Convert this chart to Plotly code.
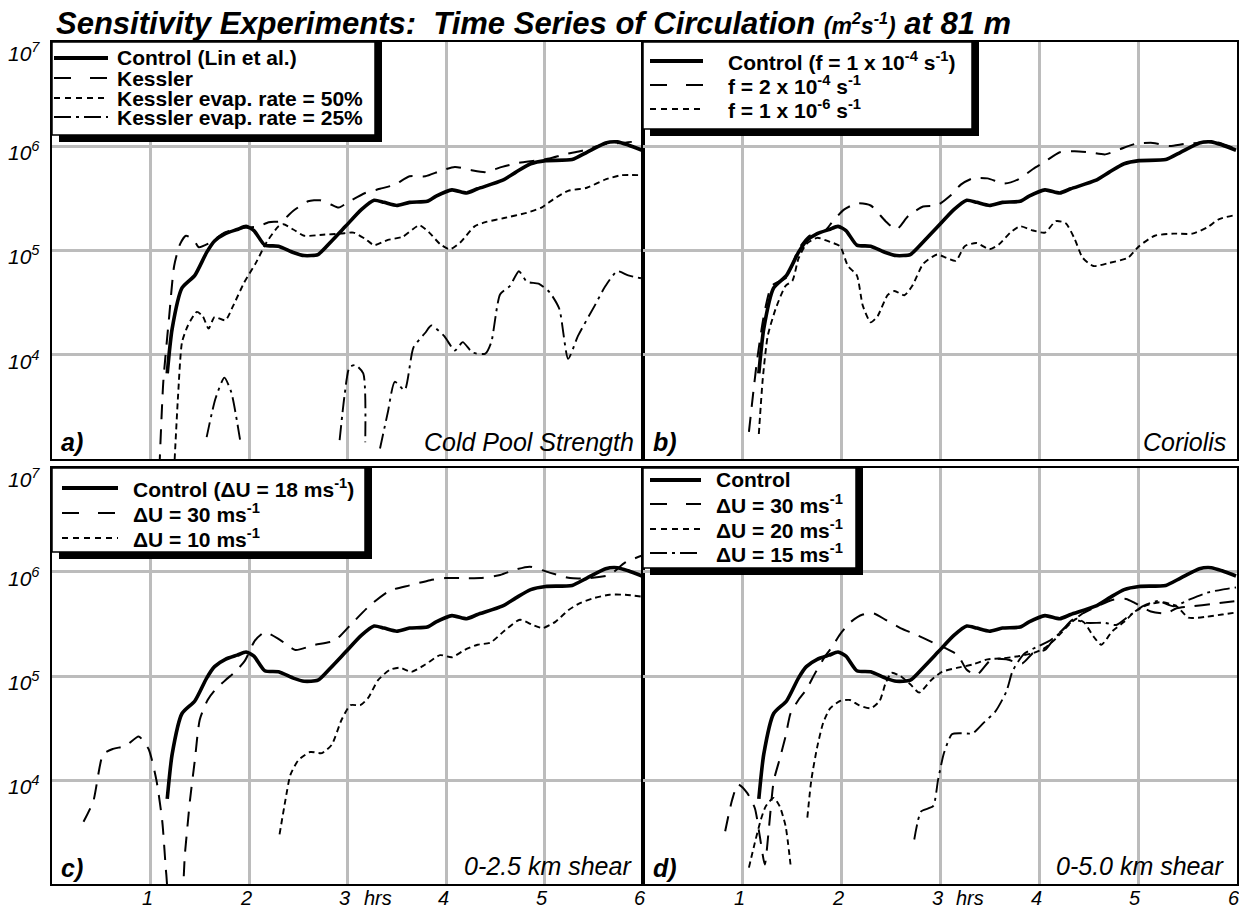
import plotly.graph_objects as go

W, H = 1239, 909

# ---------------- data (time in hours, circulation as log10 of m^2 s^-1) ----------------
ctrl_t = [1.17, 1.22, 1.32, 1.45, 1.57, 1.65, 1.76, 1.88, 1.97, 2.05, 2.16, 2.30, 2.45, 2.56, 2.70,
          2.83, 2.98, 3.14, 3.27, 3.37, 3.50, 3.63, 3.81, 3.90, 4.06, 4.21, 4.32, 4.57, 4.71, 4.86,
          5.01, 5.28, 5.43, 5.62, 5.74, 5.85, 5.99]
ctrl_log = [3.82, 4.25, 4.64, 4.76, 4.98, 5.09, 5.16, 5.20, 5.23, 5.19, 5.05, 5.04, 4.98, 4.95, 4.96,
            5.08, 5.23, 5.39, 5.48, 5.46, 5.43, 5.46, 5.47, 5.52, 5.58, 5.55, 5.59, 5.67, 5.75, 5.83,
            5.86, 5.87, 5.94, 6.03, 6.04, 6.01, 5.96]

# panel a: cold pool strength
kess_t = [1.09, 1.13, 1.19, 1.24, 1.30, 1.36, 1.44, 1.49, 1.60, 1.75, 1.90, 2.00, 2.10, 2.20, 2.33,
          2.45, 2.60, 2.72, 2.83, 2.91, 3.02, 3.18, 3.33, 3.48, 3.63, 3.79, 3.94, 4.09, 4.25, 4.40,
          4.57, 4.74, 4.90, 5.05, 5.20, 5.36, 5.47, 5.62, 5.78, 5.99]
kess_log = [2.90, 3.74, 4.37, 4.85, 5.06, 5.14, 5.10, 5.03, 5.07, 5.17, 5.21, 5.22, 5.23, 5.27, 5.28,
            5.38, 5.47, 5.48, 5.44, 5.41, 5.47, 5.55, 5.59, 5.63, 5.71, 5.71, 5.76, 5.80, 5.77, 5.75,
            5.80, 5.84, 5.86, 5.88, 5.92, 5.95, 5.98, 6.02, 6.03, 6.05]

evap50_t = [1.24, 1.28, 1.32, 1.38, 1.47, 1.53, 1.59, 1.65, 1.76, 1.84, 1.95, 2.07, 2.18, 2.30, 2.35,
            2.45, 2.56, 2.75, 2.93, 3.06, 3.18, 3.27, 3.41, 3.56, 3.73, 3.83, 3.94, 4.04, 4.15, 4.29,
            4.40, 4.59, 4.82, 4.97, 5.09, 5.24, 5.43, 5.62, 5.78, 5.99]
evap50_log = [2.90, 3.61, 4.12, 4.28, 4.41, 4.37, 4.25, 4.36, 4.33, 4.47, 4.69, 4.88, 5.08, 5.23, 5.25,
              5.20, 5.14, 5.15, 5.16, 5.17, 5.11, 5.05, 5.10, 5.13, 5.24, 5.17, 5.06, 5.01, 5.08, 5.23,
              5.27, 5.31, 5.36, 5.41, 5.49, 5.57, 5.60, 5.68, 5.72, 5.72]

evap25_t = [1.57, 1.66, 1.75, 1.82, 1.91, None,
            2.92, 2.97, 3.02, 3.08, 3.16, 3.18, None,
            3.33, 3.41, 3.48, 3.58, 3.67, 3.79, 3.85, 3.98, 4.09, 4.17, 4.27, 4.40, 4.46, 4.55,
            4.65, 4.74, 4.82, 4.94, 5.05, 5.15, 5.24, 5.34, 5.51, 5.62, 5.74, 5.85, 5.99]
evap25_log = [3.21, 3.58, 3.78, 3.64, 3.18, None,
              3.18, 3.61, 3.88, 3.90, 3.82, 3.16, None,
              3.10, 3.45, 3.74, 3.66, 4.07, 4.21, 4.28, 4.18, 4.04, 4.12, 4.02, 4.01, 4.12, 4.58,
              4.66, 4.80, 4.70, 4.68, 4.60, 4.44, 3.96, 4.18, 4.47, 4.66, 4.80, 4.76, 4.73]

# panel b: Coriolis
f2_t = [1.07, 1.15, 1.22, 1.30, 1.45, 1.57, 1.68, 1.84, 1.91, 2.03, 2.16, 2.30, 2.45, 2.56, 2.68,
        2.83, 2.97, 3.10, 3.21, 3.33, 3.48, 3.65, 3.79, 3.94, 4.06, 4.21, 4.36, 4.51, 4.67, 4.82,
        4.97, 5.15, 5.32, 5.47, 5.62, 5.78, 5.97]
f2_log = [3.26, 3.93, 4.37, 4.66, 4.74, 5.01, 5.14, 5.19, 5.27, 5.39, 5.45, 5.43, 5.28, 5.20, 5.33,
          5.42, 5.43, 5.52, 5.63, 5.69, 5.69, 5.64, 5.68, 5.78, 5.85, 5.94, 5.95, 5.94, 5.92, 5.97,
          6.02, 6.03, 6.00, 6.02, 6.03, 6.04, 5.98]

f6_t = [1.17, 1.21, 1.26, 1.34, 1.44, 1.51, 1.57, 1.65, 1.76, 1.89, 1.99, 2.07, 2.16, 2.22, 2.30,
        2.37, 2.47, 2.54, 2.64, 2.72, 2.83, 2.97, 3.06, 3.16, 3.25, 3.37, 3.50, 3.60, 3.71, 3.81,
        3.94, 4.06, 4.17, 4.27, 4.36, 4.44, 4.55, 4.71, 4.90, 5.01, 5.17, 5.36, 5.55, 5.70, 5.82, 5.99]
f6_log = [3.24, 3.77, 4.18, 4.44, 4.66, 4.71, 4.92, 5.06, 5.12, 5.08, 5.04, 4.85, 4.76, 4.47, 4.31,
          4.37, 4.57, 4.61, 4.57, 4.66, 4.87, 4.96, 4.93, 4.90, 5.04, 5.07, 5.01, 5.06, 5.17, 5.23,
          5.19, 5.17, 5.28, 5.26, 5.11, 4.93, 4.85, 4.88, 4.93, 5.04, 5.14, 5.16, 5.16, 5.22, 5.30, 5.34]

# panel c: 0-2.5 km shear
c30_t = [0.32, 0.42, 0.52, 0.62, 0.75, 0.88, 0.98, 1.06, 1.12, 1.16, 1.20, 1.30, 1.35, 1.40, 1.45,
         1.50, 1.58, 1.65, 1.76, 1.86, 1.96, 2.06, 2.16, 2.31, 2.47, 2.67, 2.87, 3.03, 3.23, 3.43,
         3.63, 3.84, 3.99, 4.14, 4.35, 4.55, 4.70, 4.85, 5.06, 5.26, 5.46, 5.66, 5.82, 6.00]
c30_log = [3.60, 3.80, 4.25, 4.30, 4.33, 4.42, 4.30, 4.00, 3.60, 3.10, 2.80, 2.80, 3.30, 3.80, 4.19,
           4.58, 4.77, 4.86, 4.96, 5.04, 5.15, 5.34, 5.42, 5.35, 5.25, 5.30, 5.34, 5.49, 5.68, 5.82,
           5.87, 5.92, 5.94, 5.94, 5.94, 5.97, 6.02, 6.05, 5.99, 5.94, 5.94, 5.97, 6.09, 6.16]

c10_t = [2.31, 2.37, 2.42, 2.50, 2.62, 2.74, 2.84, 2.94, 3.03, 3.13, 3.21, 3.31, 3.43, 3.53, 3.65,
         3.79, 3.94, 4.06, 4.19, 4.32, 4.45, 4.60, 4.75, 4.88, 4.98, 5.11, 5.24, 5.36, 5.51, 5.66,
         5.82, 6.00]
c10_log = [3.48, 3.81, 4.05, 4.19, 4.27, 4.26, 4.34, 4.58, 4.72, 4.72, 4.79, 4.96, 5.06, 5.08, 5.04,
           5.11, 5.20, 5.18, 5.25, 5.30, 5.32, 5.44, 5.54, 5.49, 5.46, 5.52, 5.63, 5.70, 5.75, 5.78,
           5.78, 5.76]

# panel d: 0-5.0 km shear
d30_t = [0.83, 0.90, 0.96, 1.05, 1.13, 1.18, 1.23, 1.27, 1.32, 1.38, 1.44, 1.49, 1.57, 1.65, 1.74,
         1.84, 1.91, 1.99, 2.10, 2.22, 2.33, 2.45, 2.60, 2.75, 2.93, 3.05, 3.18, 3.27, 3.37, 3.52,
         3.67, 3.83, 3.94, 4.06, 4.17, 4.29, 4.44, 4.59, 4.74, 4.88, 4.97, 5.13, 5.28, 5.39, 5.55,
         5.74, 5.99]
d30_log = [3.51, 3.81, 3.96, 3.88, 3.73, 3.46, 3.19, 3.52, 3.99, 4.20, 4.42, 4.64, 4.77, 4.87, 5.03,
           5.19, 5.28, 5.40, 5.52, 5.59, 5.60, 5.54, 5.46, 5.40, 5.32, 5.27, 5.20, 5.06, 5.01, 5.16,
           5.16, 5.12, 5.22, 5.25, 5.38, 5.49, 5.60, 5.67, 5.73, 5.74, 5.70, 5.62, 5.60, 5.65, 5.67,
           5.69, 5.72]

d20_t = [1.07, 1.13, 1.19, 1.24, 1.32, 1.38, 1.44, 1.49, None,
         1.66, 1.70, 1.76, 1.82, 1.89, 1.99, 2.09, 2.18, 2.30, 2.39, 2.45, 2.51, 2.60, 2.70, 2.79,
         2.91, 3.02, 3.18, 3.33, 3.48, 3.63, 3.79, 3.94, 4.06, 4.17, 4.29, 4.38, 4.46, 4.55, 4.63,
         4.74, 4.86, 4.97, 5.09, 5.24, 5.39, 5.51, 5.70, 5.85, 5.99]
d20_log = [3.16, 3.40, 3.62, 3.75, 3.83, 3.75, 3.56, 3.19, None,
           3.64, 4.00, 4.32, 4.55, 4.69, 4.76, 4.77, 4.72, 4.69, 4.76, 4.93, 5.03, 5.00, 4.92, 4.84,
           4.96, 5.04, 5.08, 5.11, 5.16, 5.17, 5.19, 5.22, 5.27, 5.36, 5.48, 5.55, 5.51, 5.38, 5.30,
           5.43, 5.52, 5.62, 5.68, 5.71, 5.67, 5.56, 5.57, 5.59, 5.61]

d15_t = [2.74, 2.81, 2.93, 2.98, 3.04, 3.12, 3.21, 3.33, 3.44, 3.56, 3.67, 3.73, 3.79, 3.86, 3.98,
         4.09, 4.21, 4.34, 4.48, 4.67, 4.78, 4.90, 5.05, 5.20, 5.36, 5.51, 5.70, 5.85, 5.99]
d15_log = [3.43, 3.70, 3.75, 4.00, 4.26, 4.44, 4.45, 4.45, 4.55, 4.66, 4.85, 5.04, 5.14, 5.22, 5.28,
           5.33, 5.41, 5.54, 5.51, 5.51, 5.49, 5.57, 5.67, 5.72, 5.67, 5.73, 5.80, 5.83, 5.85]

x_ticks = [1, 2, 3, 4, 5, 6]
y_ticks = [4, 5, 6, 7]

# ---------------- styles ----------------
FONT = "Liberation Sans, Arial, Helvetica, sans-serif"
GRID = "#bcbcbc"
SOLID = dict(color="black", width=3.6, dash="solid", key="solid")
LDASH = dict(color="black", width=2.0, dash="15px,10px", key="ldash")
SDASH = dict(color="black", width=1.9, dash="6px,4px", key="sdash")
DDOT = dict(color="black", width=1.9, dash="15px,5px,3px,5px", key="ddot")
LEG_DASH = {"solid": "solid", "ldash": "17px,19px", "sdash": "6px,5px", "ddot": "17px,5px,3px,5px"}


def px(x):
    return x / W


def py(y):
    return 1 - y / H


def lin(v):
    return [None if a is None else 10 ** a for a in v]


fig = go.Figure()

panels = {
    "a": ("x", "y"),
    "b": ("x2", "y2"),
    "c": ("x3", "y3"),
    "d": ("x4", "y4"),
}

series = [
    ("a", ctrl_t, ctrl_log, SOLID),
    ("a", kess_t, kess_log, LDASH),
    ("a", evap50_t, evap50_log, SDASH),
    ("a", evap25_t, evap25_log, DDOT),
    ("b", ctrl_t, ctrl_log, SOLID),
    ("b", f2_t, f2_log, LDASH),
    ("b", f6_t, f6_log, SDASH),
    ("c", ctrl_t, ctrl_log, SOLID),
    ("c", c30_t, c30_log, LDASH),
    ("c", c10_t, c10_log, SDASH),
    ("d", ctrl_t, ctrl_log, SOLID),
    ("d", d30_t, d30_log, LDASH),
    ("d", d20_t, d20_log, SDASH),
    ("d", d15_t, d15_log, DDOT),
]
for p, t, v, st in series:
    xa, ya = panels[p]
    fig.add_trace(go.Scatter(
        x=t, y=lin(v), mode="lines", xaxis=xa, yaxis=ya, showlegend=False,
        connectgaps=False, hoverinfo="skip",
        line=dict(color=st["color"], width=st["width"], dash=st["dash"],
                  shape="spline", smoothing=0.6)))

XL = [52, 643]
XR = [643, 1237]
YT = [41.7, 459]
YB = [467.7, 884.3]
dom = {
    "a": (XL, YT), "b": (XR, YT), "c": (XL, YB), "d": (XR, YB),
}
for i, p in enumerate(["a", "b", "c", "d"]):
    (x0, x1), (y0, y1) = dom[p]
    sx = "" if i == 0 else str(i + 1)
    fig.update_layout(**{
        "xaxis" + sx: dict(domain=[px(x0), px(x1)], anchor="y" + sx, range=[0, 6],
                           tickvals=x_ticks, showticklabels=False, ticks="",
                           showgrid=True, gridcolor=GRID, gridwidth=2.5,
                           showline=True, mirror=True, linecolor="black", linewidth=2,
                           zeroline=False, fixedrange=True),
        "yaxis" + sx: dict(domain=[py(y1), py(y0)], anchor="x" + sx, type="log", range=[3, 7],
                           tickvals=[10 ** k for k in y_ticks], showticklabels=False, ticks="",
                           showgrid=True, gridcolor=GRID, gridwidth=2.5,
                           showline=True, mirror=True, linecolor="black", linewidth=2,
                           zeroline=False, fixedrange=True),
    })

shapes = []
ann = []


def text(x, y, s, size, xanchor="left", yanchor="middle", bold=False, italic=False):
    if italic:
        s = "<i>" + s + "</i>"
    if bold:
        s = "<b>" + s + "</b>"
    ann.append(dict(x=px(x), y=py(y), xref="paper", yref="paper", text=s, showarrow=False,
                    xanchor=xanchor, yanchor=yanchor, font=dict(family=FONT, size=size, color="black")))


# legends
def legend(x0, y0, x1, y1, rows, sx0, sx1, tx, labels, styles):
    shapes.append(dict(type="rect", xref="paper", yref="paper", x0=px(x0 + 7), x1=px(x1 + 7),
                       y0=py(y1 + 7), y1=py(y0), fillcolor="black", line=dict(width=0), layer="above"))
    shapes.append(dict(type="rect", xref="paper", yref="paper", x0=px(x0), x1=px(x1),
                       y0=py(y1), y1=py(y0), fillcolor="white",
                       line=dict(color="black", width=1.5), layer="above"))
    for r, lab, st in zip(rows, labels, styles):
        shapes.append(dict(type="line", xref="paper", yref="paper", x0=px(sx0), x1=px(sx1),
                           y0=py(r), y1=py(r), layer="above",
                           line=dict(color="black", width=st["width"] if st is not SOLID else 3.8,
                                     dash=LEG_DASH[st["key"]])))
        text(tx, r, lab, 21, bold=True)


legend(52, 42, 375, 135, [58, 78, 98, 117], 54, 108, 115,
       ["Control (Lin et al.)", "Kessler", "Kessler evap. rate = 50%", "Kessler evap. rate = 25%"],
       [SOLID, LDASH, SDASH, DDOT])
legend(643, 42, 972, 129, [61, 85, 109], 650, 703, 726,
       ["Control (f = 1 x 10<sup>-4</sup> s<sup>-1</sup>)", "f = 2 x 10<sup>-4</sup> s<sup>-1</sup>",
        "f = 1 x 10<sup>-6</sup> s<sup>-1</sup>"],
       [SOLID, LDASH, SDASH])
legend(52, 468, 365, 552, [488, 513, 538], 62, 118, 131,
       ["Control (\u0394U = 18 ms<sup>-1</sup>)", "\u0394U = 30 ms<sup>-1</sup>", "\u0394U = 10 ms<sup>-1</sup>"],
       [SOLID, LDASH, SDASH])
legend(643, 468, 856, 568, [480, 504, 529, 553], 650, 701, 714,
       ["Control", "\u0394U = 30 ms<sup>-1</sup>", "\u0394U = 20 ms<sup>-1</sup>", "\u0394U = 15 ms<sup>-1</sup>"],
       [SOLID, LDASH, SDASH, DDOT])

# title
text(54, 23, "Sensitivity Experiments:\u00a0\u00a0Time Series of Circulation "
     "<span style='font-size:23px'>(m<sup>2</sup>s<sup>-1</sup>)</span> at 81 m",
     31, bold=True, italic=True)

# y tick labels
for (y0, y1) in (YT, YB):
    dec = (y1 - y0) / 4.0
    for k in y_ticks:
        yy = y0 + (7 - k) * dec
        off = 10 if k == 7 else 5
        text(42, yy + off, "10<sup>%d</sup>" % k, 21, xanchor="right", italic=True)

# x tick labels
for (x0, x1) in (XL, XR):
    step = (x1 - x0) / 6.0
    for k in x_ticks:
        xx = x0 + k * step - 3
        text(xx, 898, str(k), 20, xanchor="center", italic=True)
    text(x0 + 3 * step + 14, 898, "hrs", 20, xanchor="left", italic=True)

# panel letters and descriptions
text(59, 442, "a)", 25, bold=True, italic=True)
text(636, 442, "Cold Pool Strength", 25, xanchor="right", italic=True)
text(651, 442, "b)", 25, bold=True, italic=True)
text(1228, 442, "Coriolis", 25, xanchor="right", italic=True)
text(59, 868, "c)", 25, bold=True, italic=True)
text(634, 866, "0-2.5 km shear", 25, xanchor="right", italic=True)
text(651, 868, "d)", 25, bold=True, italic=True)
text(1226, 866, "0-5.0 km shear", 25, xanchor="right", italic=True)

fig.update_layout(width=W, height=H, margin=dict(l=0, r=0, t=0, b=0),
                  paper_bgcolor="white", plot_bgcolor="white",
                  shapes=shapes, annotations=ann, showlegend=False)

fig.write_html("out.html", config={"displayModeBar": False})
